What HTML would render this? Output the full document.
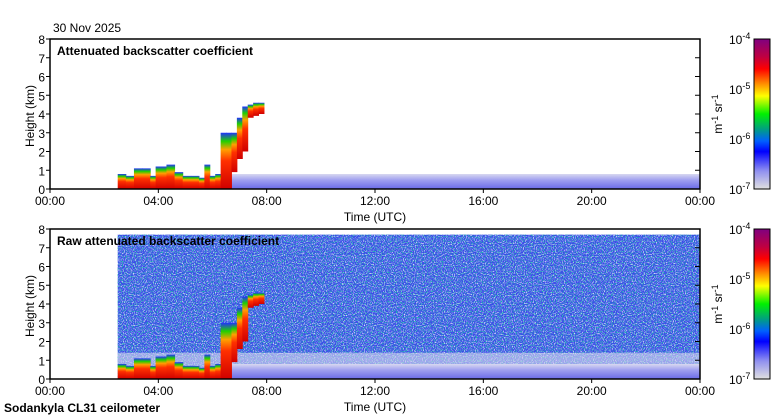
<!DOCTYPE html>
<html><head><meta charset="utf-8"><style>
body{margin:0;background:#fff;width:780px;height:420px;overflow:hidden}
svg{display:block;font-family:"Liberation Sans",sans-serif}
</style></head><body>
<svg id="chart" width="780" height="420">
<defs>
<linearGradient id="cb" x1="0" y1="0" x2="0" y2="1">
<stop offset="0" stop-color="#800080"/><stop offset="0.12" stop-color="#c00040"/>
<stop offset="0.2" stop-color="#ff0000"/><stop offset="0.3" stop-color="#ff9000"/>
<stop offset="0.38" stop-color="#ffff00"/><stop offset="0.5" stop-color="#00f000"/>
<stop offset="0.6" stop-color="#00a080"/><stop offset="0.68" stop-color="#0060ff"/>
<stop offset="0.75" stop-color="#0000ff"/><stop offset="0.88" stop-color="#9090f0"/>
<stop offset="1" stop-color="#e0e0e0"/></linearGradient>
<linearGradient id="cloud" x1="0" y1="1" x2="0" y2="0">
<stop offset="0" stop-color="#d00000"/><stop offset="0.5" stop-color="#ff3000"/>
<stop offset="0.7" stop-color="#ffa000"/><stop offset="0.85" stop-color="#20d000"/>
<stop offset="1" stop-color="#2030ff"/></linearGradient>
<linearGradient id="lowblue" x1="0" y1="1" x2="0" y2="0">
<stop offset="0" stop-color="#6a6ae8"/><stop offset="0.6" stop-color="#a0a0f0"/><stop offset="1" stop-color="#d8d8f0"/></linearGradient>
<filter id="noise" x="0" y="0" width="100%" height="100%">
<feTurbulence type="fractalNoise" baseFrequency="0.9" numOctaves="1" seed="3"/>
<feColorMatrix values="0 0 0 0 1  0 0 0 0 1  0 0 0 0 1  0 0 0 3 -1.4"/>
</filter>
<filter id="noise2" x="0" y="0" width="100%" height="100%">
<feTurbulence type="fractalNoise" baseFrequency="0.8" numOctaves="1" seed="11"/>
<feColorMatrix values="0 0 0 0 0  0 0 0 0 0.7  0 0 0 0 0.3  0 0 0 3 -1.5"/>
</filter>
</defs>
<g id="panels"></g>
</svg>
<script>
const panelTops=[39,229];
const panelTitles=["Attenuated backscatter coefficient","Raw attenuated backscatter coefficient"];
const hourTicks=[0,4,8,12,16,20,24];
const hourLabels=["00:00","04:00","08:00","12:00","16:00","20:00","00:00"];
const heightTicks=[0,1,2,3,4,5,6,7,8];
const cbExps=["-4","-5","-6","-7"];
// low cloud layer: time (h) and top height (km)
const lowTimes=[2.5,2.8,3.1,3.4,3.7,3.9,4.1,4.3,4.6,4.9,5.2,5.5,5.7,5.9,6.1,6.3];
const lowTops=[0.8,0.7,1.1,1.1,0.7,1.2,1.2,1.3,0.9,0.7,0.7,0.6,1.3,0.7,0.8,0.9];
// rising cloud column: time (h), base km, top km
const colTimes=[6.3,6.5,6.7,6.9,7.1,7.3,7.5,7.7,7.9];
const colBases=[0,0,0.9,1.6,2.0,3.8,3.9,4.0,4.1];
const colTops=[3.0,3.0,3.0,3.8,4.4,4.5,4.6,4.6,4.5];
const dataStart=2.5, noiseTop=7.7, lowNoiseTop=0.8;
const X0=50,W=650,H=150;
const xs=t=>X0+t/24*W;
const ns="http://www.w3.org/2000/svg";
const root=document.getElementById('panels');
function mk(tag,attrs,parent){const e=document.createElementNS(ns,tag);for(const k in attrs)e.setAttribute(k,attrs[k]);(parent||root).appendChild(e);return e;}
function txt(s,attrs,parent){const e=mk('text',attrs,parent);e.textContent=s;return e;}
panelTops.forEach((top,p)=>{
  const ys=h=>top+H-h/8*H;
  const g=mk('g',{});
  
  
  if(p===1){
    const nx=xs(dataStart),nw=xs(24)-xs(dataStart),ny=ys(noiseTop),nh=ys(0)-ys(noiseTop);
    mk('rect',{x:nx,y:ny,width:nw,height:nh,fill:'#3a4ae8'},g);
    mk('rect',{x:nx,y:ny,width:nw,height:nh,filter:'url(#noise)'},g);
    mk('rect',{x:nx,y:ny,width:nw,height:nh,filter:'url(#noise2)'},g);
    mk('rect',{x:nx,y:ys(1.4),width:nw,height:ys(0)-ys(1.4),fill:'#d8d8f0',opacity:0.6},g);
  }
  mk('rect',{x:xs(6.7),y:ys(lowNoiseTop),width:xs(24)-xs(6.7),height:ys(0)-ys(lowNoiseTop),fill:'url(#lowblue)'},g);
  for(let i=0;i<lowTimes.length-1;i++){
    const r=mk('rect',{x:xs(lowTimes[i]),y:ys(lowTops[i]),width:xs(lowTimes[i+1])-xs(lowTimes[i])+0.5,height:ys(0)-ys(lowTops[i]),fill:'url(#cloud)'},g);
    
    
  }
  for(let i=0;i<colTimes.length-1;i++){
    const r=mk('rect',{x:xs(colTimes[i]),y:ys(colTops[i]),width:xs(colTimes[i+1])-xs(colTimes[i])+0.5,height:ys(colBases[i])-ys(colTops[i]),fill:'url(#cloud)'},g);
    
    
  }
  mk('rect',{x:X0,y:top,width:W,height:H,fill:'none',stroke:'#000','stroke-width':1.5},g);
  heightTicks.forEach(h=>{
    mk('line',{x1:X0-4,x2:X0,y1:ys(h),y2:ys(h),stroke:'#000'},g);
    mk('line',{x1:X0+W-5,x2:X0+W,y1:ys(h),y2:ys(h),stroke:'#000'},g);
    txt(String(h),{x:X0-5,y:ys(h)+5,'text-anchor':'end','font-size':12},g);
  });
  hourTicks.forEach((t,i)=>{
    mk('line',{x1:xs(t),x2:xs(t),y1:top+H,y2:top+H+4,stroke:'#000'},g);
    txt(hourLabels[i],{x:xs(t),y:top+H+16,'text-anchor':'middle','font-size':12},g);
  });
  const tt=txt(panelTitles[p],{x:57,y:top+16,'font-size':12,'font-weight':'bold'},g);
  
  
  const yt=txt('Height (km)',{x:34,y:top+H/2+2,'text-anchor':'middle','font-size':12,transform:`rotate(-90 34 ${top+H/2+2})`},g);
  
  
  const xt=txt('Time (UTC)',{x:375,y:top+H+32,'text-anchor':'middle','font-size':12},g);
  
  
  const cb=mk('rect',{x:754,y:top,width:16,height:H,fill:'url(#cb)',stroke:'#000'},g);
  
  
  cbExps.forEach((e,i)=>{
    const t=txt('',{x:729,y:top+i*H/3+5,'font-size':12},g);
    t.innerHTML='10<tspan dy="-5" font-size="9">'+e+'</tspan>';
  });
  const ul=txt('',{x:722,y:top+H/2,'text-anchor':'middle','font-size':12,transform:`rotate(-90 722 ${top+H/2})`},g);
  ul.innerHTML='m<tspan dy="-4" font-size="9">-1</tspan><tspan dy="4"> sr</tspan><tspan dy="-4" font-size="9">-1</tspan>';
});
const d=txt('30 Nov 2025',{x:53,y:32,'font-size':12});


const s=txt('Sodankyla CL31 ceilometer',{x:4,y:412,'font-size':12,'font-weight':'bold'});


</script>
</body></html>
